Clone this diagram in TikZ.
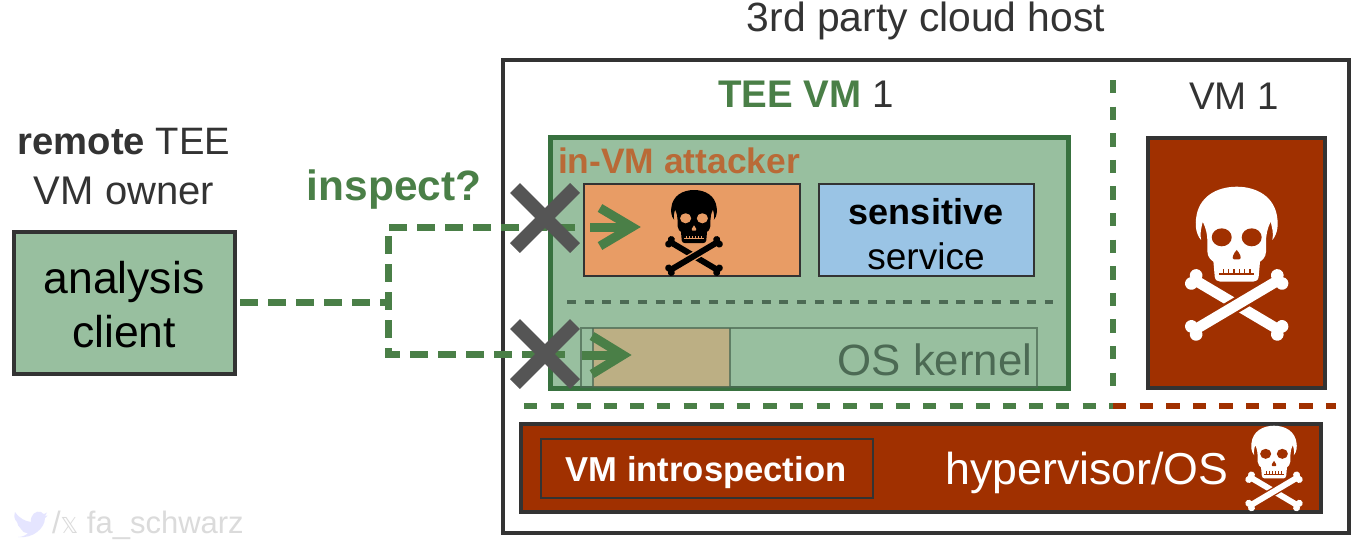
\documentclass[tikz,border=0pt]{standalone}
\usepackage{fontspec}
\setmainfont{Liberation Sans}
\newfontfamily\djv{DejaVu Sans}
\usetikzlibrary{calc}
\definecolor{greenfill}{HTML}{98BF9F}
\definecolor{greenline}{HTML}{38713F}
\definecolor{greentext}{HTML}{4A7F47}
\definecolor{orangefill}{HTML}{E89C65}
\definecolor{bluefill}{HTML}{9AC4E5}
\definecolor{evil}{HTML}{A03000}
\definecolor{ink}{HTML}{333333}
\definecolor{crossgray}{HTML}{555555}
\definecolor{attackertext}{HTML}{B96A37}
\definecolor{kerneltext}{HTML}{4C6A54}
\newcommand{\fs}[1]{\fontsize{#1}{#1}\selectfont}
% cx, top, unit, fg, bg
\newcommand{\skullicon}[5]{%
\begin{scope}[shift={(#1,#2)},x=#3,y=-#3]
\fill[#4] (-107,160) .. controls (-125,140) and (-124,110) .. (-122,95)
 .. controls (-115,30) and (-60,0) .. (0,0)
 .. controls (60,0) and (115,30) .. (122,95)
 .. controls (124,110) and (125,140) .. (107,160)
 .. controls (112,140) and (105,120) .. (102,105)
 .. controls (92,125) and (88,145) .. (88,165) -- (88,195)
 .. controls (88,212) and (75,222) .. (70,225) -- (66,270)
 .. controls (65,280) and (58,285) .. (50,285) -- (-50,285)
 .. controls (-58,285) and (-65,280) .. (-66,270) -- (-70,225)
 .. controls (-75,222) and (-88,212) .. (-88,195) -- (-88,165)
 .. controls (-88,145) and (-92,125) .. (-102,105)
 .. controls (-105,120) and (-112,140) .. (-107,160) -- cycle;
\fill[#5] (-45,152) ellipse (30 and 27);
\fill[#5] (45,152) ellipse (30 and 27);
\fill[#5] (0,190) .. controls (-8,198) and (-18,217) .. (-8,218) -- (8,218) .. controls (18,217) and (8,198) .. (0,190) -- cycle;
\fill[#5] (-52,259) rectangle (52,265);
\foreach \tx in {-40,-24,-8,8,24,40} \fill[#5] ({\tx-2},246) rectangle ({\tx+2},262);
\begin{scope}[shift={(0,355)},rotate=-30.65]
\fill[#4] (-150,-16) rectangle (150,16);
\foreach \kx in {-150,150} \foreach \ky in {-14,14} \fill[#4] (\kx,\ky) circle (19);
\end{scope}
\begin{scope}[shift={(0,355)},rotate=30.65]
\fill[#5] (-60,-23) rectangle (60,23);
\fill[#4] (-150,-16) rectangle (150,16);
\foreach \kx in {-150,150} \foreach \ky in {-14,14} \fill[#4] (\kx,\ky) circle (19);
\end{scope}
\end{scope}}
\tikzset{
 x=1pt,y=-1pt,
 lbl/.style={inner sep=0pt,outer sep=0pt,anchor=center,text=ink},
 box/.style={line width=#1,draw=ink},
 inspectline/.style={draw=greentext,line width=7pt,dash pattern=on 18pt off 10pt},
 sepgreen/.style={draw=greentext,line width=6pt,dash pattern=on 13.3pt off 13.3pt},
 sepred/.style={draw=evil,line width=6pt,dash pattern=on 13.3pt off 13.3pt},
 innersep/.style={draw=kerneltext,line width=4pt,dash pattern=on 9pt off 8.7pt},
 crossline/.style={draw=crossgray,line width=14pt},
 arrowline/.style={draw=greentext,line width=9pt},
}
\begin{document}
\begin{tikzpicture}
\useasboundingbox (0,0) rectangle (1362,547);
\fill[white] (0,0) rectangle (1362,547);
% outer host box
\draw[box=4pt] (503,60) rectangle (1349,533);
\node[lbl] (hosttitle) at (926,21) {\fs{40.8}3rd party cloud host};
% TEE VM
\draw[fill=greenfill,draw=greenline,line width=5pt] (550,137) rectangle (1068,388);
\node[lbl] (teetitle) at (806,94) {\fs{38.5}\textcolor{greentext}{\textbf{TEE VM}} 1};
\node[lbl,text=attackertext] (attackerlbl) at (679,161) {\fs{35.4}\textbf{in-VM attacker}};
\draw[fill=orangefill,draw=ink,line width=2pt] (584,184) rectangle (800,276);
\node[fill=bluefill,draw=ink,line width=2pt,minimum width=215pt,minimum height=92pt,inner sep=0pt] (service) at (926.5,230) {};
\node[lbl,text=black] (sens1) at (926,212) {\fs{36}\textbf{sensitive}};
\node[lbl,text=black] (sens2) at (926,256) {\fs{37}service};
\skullicon{694}{190}{0.186pt}{black}{orangefill}
% inner separator
\coordinate (ds1) at (567,302); \coordinate (ds2) at (1053,302);
\draw[innersep] (ds1) -- (ds2);
% OS kernel
\fill[fill=orangefill,fill opacity=.45] (593,328) rectangle (730,387);
\draw[draw=kerneltext,opacity=.75,line width=2pt] (581,328) rectangle (1037,387);
\draw[draw=kerneltext,opacity=.75,line width=2pt] (593,328) -- (593,387) (730,328) -- (730,387);
\node[lbl,text=kerneltext] (kernel) at (935,360) {\fs{43.8}OS kernel};
% VM 1
\node[lbl] (vmtitle) at (1234,96) {\fs{38.5}VM 1};
\draw[fill=evil,draw=ink,line width=4pt] (1148,138) rectangle (1325,388);
\skullicon{1236.7}{186.7}{0.333pt}{white}{evil}
% separators
\coordinate (v1) at (1113,80); \coordinate (v2) at (1113,392);
\coordinate (h1) at (524,406); \coordinate (h2) at (1113,406); \coordinate (h3) at (1336,406);
\draw[sepgreen] (v1) -- (v2);
\draw[sepgreen] (h1) -- (h2);
\draw[sepred] (h2) -- (h3);
% hypervisor
\draw[fill=evil,draw=ink,line width=4pt] (521,424) rectangle (1321,512);
\draw[draw=ink,line width=2pt] (541,439) rectangle (873,498);
\node[lbl,text=white] (introspect) at (706,473) {\fs{34.6}\textbf{VM introspection}};
\node[lbl,text=white] (hyper) at (1087,473) {\fs{44.7}hypervisor/OS};
\skullicon{1274}{425.7}{0.185pt}{white}{evil}
% client
\node[lbl] (owner1) at (124,142) {\fs{38.2}\textbf{remote} TEE};
\node[lbl] (owner2) at (124,191) {\fs{40}VM owner};
\node[fill=greenfill,draw=ink,line width=4pt,minimum width=221pt,minimum height=142pt,inner sep=0pt] (client) at (124.5,303) {};
\node[lbl,text=black] (c1) at (124,282) {\fs{44.5}analysis};
\node[lbl,text=black] (c2) at (124,332) {\fs{44.5}client};
\node[lbl,text=greentext] (inspect) at (394,190) {\fs{42.4}\textbf{inspect?}};
% connectors
\coordinate (j) at (388,302); \coordinate (jt) at (388,227); \coordinate (jb) at (388,354);
\coordinate (t2) at (575,227); \coordinate (b2) at (565,354);
\draw[inspectline] (client.east) ++(3,-1) -- (j);
\draw[inspectline] (t2) -- (jt) -- (jb) -- (b2);
% crosses
\coordinate (xa) at (545,218); \coordinate (xb) at (545,354);
\draw[crossline] ($(xa)+(-30,-30)$) -- ($(xa)+(30,30)$);
\draw[crossline] ($(xa)+(-30,30)$) -- ($(xa)+(30,-30)$);
\draw[crossline] ($(xb)+(-30,-30)$) -- ($(xb)+(30,30)$);
\draw[crossline] ($(xb)+(-30,30)$) -- ($(xb)+(30,-30)$);
% arrows
\coordinate (a0) at (590,227); \coordinate (a1) at (632,227);
\draw[arrowline] (a0) -- (a1);
\draw[arrowline,line join=miter] (600,208) -- (a1) -- (600,246);
\coordinate (b0) at (582,355); \coordinate (b1) at (623,355);
\draw[arrowline] (b0) -- (b1);
\draw[arrowline,line join=miter] (592,336) -- (b1) -- (592,374);
% credit
\fill[blue!10!white] (15,512) .. controls (20,519) and (25,521) .. (31,522) .. controls (30,515) and (36,510) .. (41,512) .. controls (42,513) and (43,514) .. (44,514) -- (47,512.5) -- (45,516) -- (47.5,515.5) -- (45,518) .. controls (45,528) and (33,539) .. (18,537) .. controls (23,537) and (26,535) .. (28,533) .. controls (24,533) and (22,531) .. (21,529) .. controls (19,527) and (17,524) .. (17,522) .. controls (14,519) and (14,516) .. (15,512) -- cycle;
\node[lbl,anchor=west,text=black!14] (credit) at (52,525) {\fs{31}/{\djv\fs{22}𝕏} fa\_schwarz};
\end{tikzpicture}
\end{document}
